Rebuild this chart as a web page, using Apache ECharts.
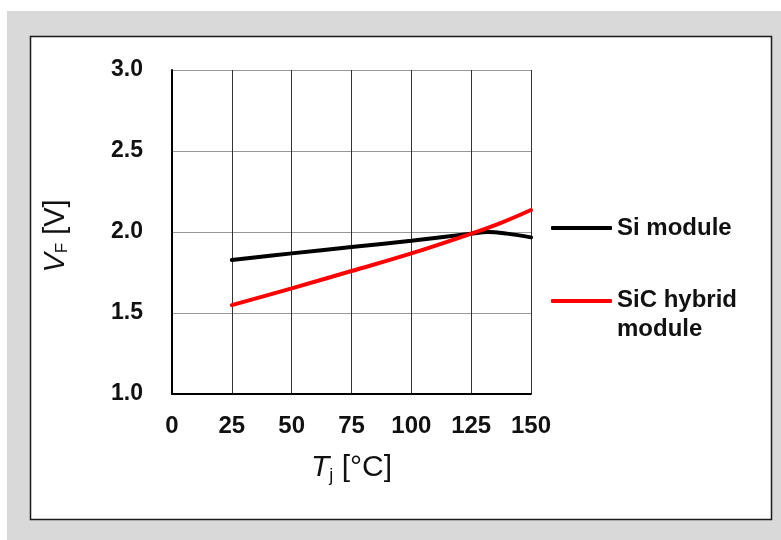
<!DOCTYPE html>
<html><head><meta charset="utf-8">
<script src="https://cdn.jsdelivr.net/npm/echarts@6/dist/echarts.min.js"></script>
<style>html,body{margin:0;padding:0;background:#fff}#c{width:781px;height:540px}</style>
</head><body><div id="c"></div>
<script>
// Data
const xTicks = [0, 25, 50, 75, 100, 125, 150];
const yTicks = [1.0, 1.5, 2.0, 2.5, 3.0];
const siTemp = [25, 50, 75, 100, 125, 132, 140, 150];
const siVf   = [1.827, 1.868, 1.907, 1.946, 1.99, 2.0, 1.99, 1.967];
const sicTemp = [25, 50, 75, 100, 125, 137.5, 150];
const sicVf   = [1.549, 1.652, 1.759, 1.868, 1.99, 2.057, 2.136];
const seriesNames = ['Si module', 'SiC hybrid module'];

const font = '"Liberation Sans", Arial, sans-serif';
const chart = echarts.init(document.getElementById('c'), null, {renderer: 'canvas'});
const zip = (a, b) => a.map((v, i) => [v, b[i]]);

chart.setOption({
  backgroundColor: '#ffffff',
  animation: false,
  graphic: [
    {type: 'rect', z: -10, shape: {x: 7, y: 11, width: 774, height: 529}, style: {fill: '#d9d9d9'}, silent: true},
    {type: 'rect', z: -9, shape: {x: 30.5, y: 36.5, width: 741, height: 483}, style: {fill: '#ffffff', stroke: '#1a1a1a', lineWidth: 1.5}, silent: true}
  ],
  grid: {left: 172, right: 250, top: 70, bottom: 146, containLabel: false},
  xAxis: {
    type: 'value', min: xTicks[0], max: xTicks[xTicks.length - 1], interval: 25,
    axisLine: {show: true, onZero: false, lineStyle: {color: '#000', width: 2}},
    axisTick: {show: false},
    axisLabel: {margin: 20, color: '#111', fontFamily: font, fontWeight: 'bold', fontSize: 24},
    splitLine: {show: true, lineStyle: {color: '#333', width: 1}},
    name: '{i|T}{s|j} [°C]',
    nameLocation: 'middle', nameGap: 57,
    nameTextStyle: {
      color: '#111', fontFamily: font, fontSize: 30,
      rich: {
        i: {fontStyle: 'italic', fontSize: 30, fontFamily: font, color: '#111'},
        s: {fontSize: 18, fontFamily: font, color: '#111', verticalAlign: 'bottom', padding: [16, 0, 0, 0]}
      }
    }
  },
  yAxis: {
    type: 'value', min: yTicks[0], max: yTicks[yTicks.length - 1], interval: 0.5,
    axisLine: {show: true, lineStyle: {color: '#000', width: 2}},
    axisTick: {show: false},
    axisLabel: {margin: 29, color: '#111', fontFamily: font, fontWeight: 'bold', fontSize: 23,
      formatter: v => v.toFixed(1)},
    splitLine: {show: true, lineStyle: {color: '#999', width: 1}},
    name: '{i|V}{s|F} [V]',
    nameLocation: 'middle', nameGap: 101, nameRotate: 90,
    nameTextStyle: {
      color: '#111', fontFamily: font, fontSize: 29, padding: [0, 8, 0, 0],
      rich: {
        i: {fontStyle: 'italic', fontSize: 29, fontFamily: font, color: '#111'},
        s: {fontSize: 17, fontFamily: font, color: '#111', verticalAlign: 'bottom', padding: [14, 0, 0, 0]}
      }
    }
  },
  legend: [
    {
      data: [seriesNames[0]], left: 551, top: 216, orient: 'vertical', padding: 0,
      icon: 'roundRect', itemWidth: 61, itemHeight: 4, itemGap: 0,
      textStyle: {color: '#111', fontFamily: font, fontWeight: 'bold', fontSize: 24}
    },
    {
      data: [seriesNames[1]], left: 551, top: 288, orient: 'vertical', padding: 0,
      icon: 'roundRect', itemWidth: 61, itemHeight: 4, itemGap: 0,
      formatter: () => '{a|SiC hybrid}\n{b|module}',
      textStyle: {
        color: '#111', fontFamily: font, fontWeight: 'bold', fontSize: 24,
        rich: {
          a: {color: '#111', fontFamily: font, fontWeight: 'bold', fontSize: 24, lineHeight: 56},
          b: {color: '#111', fontFamily: font, fontWeight: 'bold', fontSize: 24, lineHeight: 2}
        }
      }
    }
  ],
  series: [
    {
      name: seriesNames[0], type: 'line', data: zip(siTemp, siVf), smooth: 0.4,
      symbol: 'none', lineStyle: {color: '#000', width: 4, cap: 'round'}, itemStyle: {color: '#000'}, z: 3
    },
    {
      name: seriesNames[1], type: 'line', data: zip(sicTemp, sicVf), smooth: 0.4,
      symbol: 'none', lineStyle: {color: '#ff0000', width: 4, cap: 'round'}, itemStyle: {color: '#ff0000'}, z: 4
    }
  ]
});
</script></body></html>
